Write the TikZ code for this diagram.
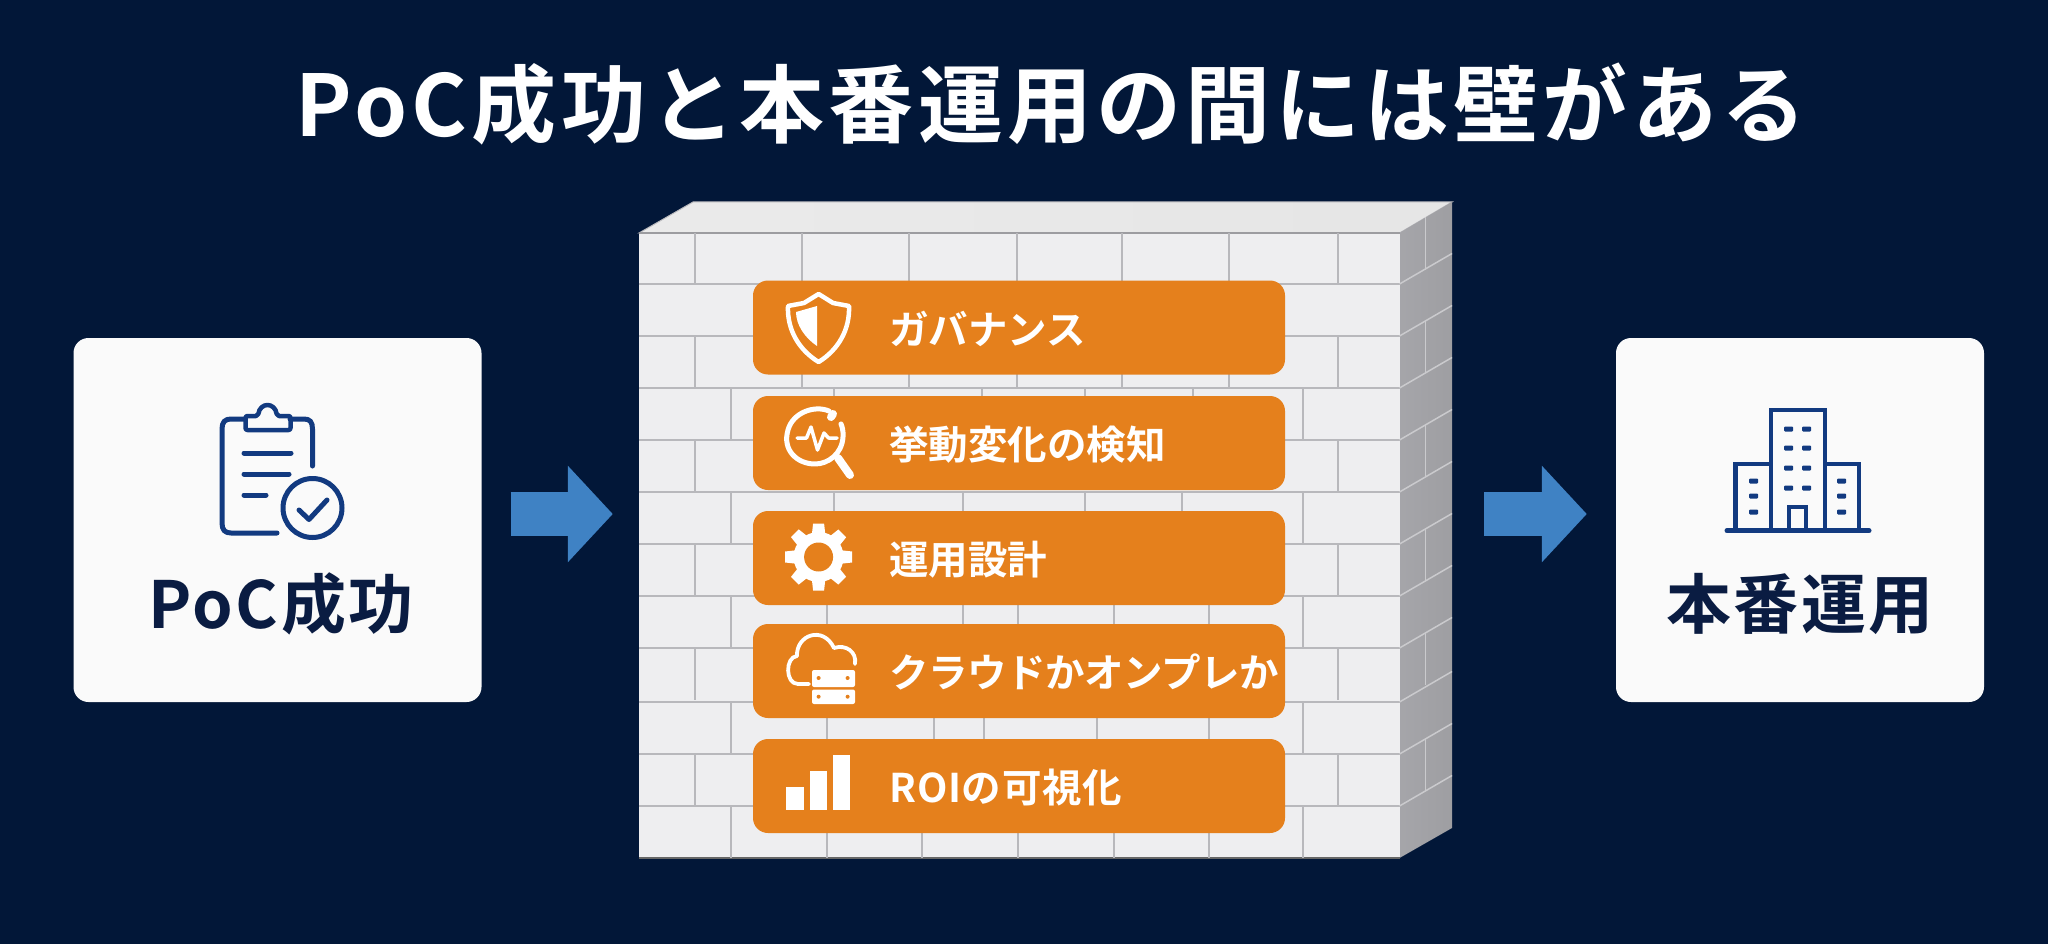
\documentclass[tikz,border=0pt]{standalone}
\usepackage{fontspec}
\setmainfont{Noto Sans CJK JP}[BoldFont=* Bold]
\usetikzlibrary{positioning,arrows.meta}

\definecolor{bgnavy}{RGB}{2,23,56}
\definecolor{cardwhite}{RGB}{250,250,250}
\definecolor{inknavy}{RGB}{10,28,66}
\definecolor{iconblue}{RGB}{18,58,128}
\definecolor{flowblue}{RGB}{63,130,196}
\definecolor{barorange}{RGB}{229,128,28}
\definecolor{brickface}{RGB}{238,238,240}
\definecolor{mortar}{RGB}{184,184,188}
\definecolor{sidegrey}{RGB}{172,172,176}

\tikzset{
    card/.style={fill=cardwhite, rounded corners=15pt, minimum width=408pt, minimum height=364pt, inner sep=0pt},
    cardlabel/.style={text=inknavy, inner sep=0pt, font=\fontsize{65}{65}\selectfont\bfseries\addfontfeature{LetterSpace=4}},
    itembar/.style={fill=barorange, rounded corners=15pt, minimum width=532pt, minimum height=94pt, inner sep=0pt},
    itemlabel/.style={text=white, inner sep=0pt, text height=38pt, text depth=5pt, font=\fontsize{39.5}{39.5}\selectfont\bfseries},
    flowarrow/.style={draw=flowblue, line width=44pt, -{Triangle[length=45pt,width=94pt]}},
    iconline/.style={draw=iconblue, line width=5pt, line cap=round, line join=round},
    winblock/.style={fill=iconblue, rounded corners=1pt},
    joint/.style={draw=mortar, line width=2pt},
    sidejoint/.style={draw=mortar!75!white, line width=1.5pt},
    whiteline/.style={draw=white, line width=5pt, line cap=round, line join=round},
}

\begin{document}
\begin{tikzpicture}[x=1pt,y=-1pt]
    \path[use as bounding box, fill=bgnavy] (0,0) rectangle (2048,944);

    \node[text=white, inner sep=0pt, font=\fontsize{85}{85}\selectfont\bfseries\addfontfeature{LetterSpace=5}] (title) at (1051,104) {PoC成功と本番運用の間には壁がある};

    % wall
    \shade[left color=white!92!black, right color=white!90!black, draw=mortar, line width=1pt] (639,233) -- (693,202) -- (1452,202) -- (1399.5,233) -- cycle;
    \shade[left color=sidegrey!108!white, right color=sidegrey!92!black] (1399.5,233) -- (1452,202) -- (1452,828) -- (1399.5,858) -- cycle;
    \node[fill=brickface, minimum width=760.5pt, minimum height=625pt, inner sep=0pt] (wallfront) at (1019.25,545.5) {};

    \foreach \ycourse in {284,336,388,440,492,544,596,648,702,754,806} {
        \draw[joint] (639,\ycourse) -- (1399.5,\ycourse);
        \draw[sidejoint] (1399.5,\ycourse) -- (1452,\ycourse-30.5);
    }
    \draw[draw=mortar!85!black, line width=2pt] (639,233) -- (1399.5,233);
    \draw[draw=black!60, line width=2.5pt] (639,858) -- (1399.5,858);

    \foreach \ytop/\joints in {233/{695,802,909,1017,1122,1229,1337.5},
                               336/{695,802,909,1017,1122,1229,1337.5},
                               388/{731,834,982,1085,1193,1303},
                               440/{695,1337.5},
                               492/{731,834,963,1085,1182,1303},
                               544/{695,1337.5},
                               596/{731,827,963,1018,1114,1209,1303},
                               648/{695,1337.5},
                               702/{731,827,934,984,1097,1209,1303},
                               754/{695,1337.5},
                               806/{731,827,922,1018,1114,1209,1303}} {
        \foreach \xj in \joints {
            \draw[joint] (\xj,\ytop) -- (\xj,\ytop+52);
        }
    }
    \foreach \ytop in {233,336,440,544,648,754} {
        \draw[sidejoint] (1425.5,\ytop-15.5) -- (1425.5,\ytop+36.5);
    }

    % orange bars
    \foreach \ybar/\name/\txt in {327.5/gov/ガバナンス, 443/detect/挙動変化の検知, 558/ops/運用設計, 671/cloud/{\addfontfeature{LetterSpace=-1.2}クラウドかオンプレか}, 786/roi/{\addfontfeature{LetterSpace=3}ROI\addfontfeature{LetterSpace=2}の可視化}} {
        \node[itembar] (bar\name) at (1019,\ybar) {};
        \node[itemlabel, right=136pt of bar\name.west] (txt\name) {\txt};
    }

    % shield
    \draw[whiteline, line width=4.5pt] (818.6,294) -- (833,303) -- (849,306) .. controls (850,330) and (838,350) .. (818.6,362) .. controls (799,350) and (787,330) .. (788,306) -- (804,303) -- cycle;
    \fill[white] (817,306) -- (817,346) .. controls (805,338) and (796,325) .. (796,312) -- cycle;

    % magnifier
    \draw[whiteline] (829,411) .. controls (815,405) and (793,412) .. (788,430) .. controls (782,450) and (797,464) .. (815,464) .. controls (828,464) and (842,454) .. (843,437) .. controls (843.5,431) and (842,426) .. (841,424);
    \draw[whiteline, line width=8pt] (831,417) -- (833,414);
    \draw[whiteline, line width=8pt] (838,458) -- (850,475);
    \draw[whiteline, line width=3.5pt] (797,438) -- (806.5,438) -- (811,427) -- (817.5,450) -- (824,433) -- (828.5,438) -- (837,438);

    % gear
    \fill[white] (818.6,557) circle[radius=25];
    \foreach \ang in {0,45,...,315} {
        \fill[white, shift={(818.6,557)}, rotate=\ang] (-7,-20) -- (-5.5,-33.5) -- (5.5,-33.5) -- (7,-20) -- cycle;
    }
    \fill[barorange] (818.6,557) circle[radius=14.5];

    % cloud and servers
    \draw[whiteline, line width=3.8pt] (809,684) -- (798,684) .. controls (785,684) and (785,657) .. (797,656) .. controls (796,635) and (823,625) .. (834,648) .. controls (846,644) and (857,652) .. (855,664);
    \fill[white, rounded corners=2pt] (812,670) rectangle (855,687);
    \fill[white, rounded corners=2pt] (812,689.5) rectangle (855,704);
    \foreach \xd in {818.6,847.6} {
        \fill[barorange] (\xd,678) circle[radius=2];
        \fill[barorange] (\xd,696.7) circle[radius=2];
    }

    % bar chart
    \fill[white] (786,787) rectangle (804,810);
    \fill[white] (810,771) rectangle (827,810);
    \fill[white] (833,755) rectangle (850,810);

    % left card
    \node[card] (pocbox) at (277.5,520) {};
    \node[cardlabel] (poclabel) at (281,604) {PoC成功};
    \draw[iconline] (312.5,466) -- (312.5,429) .. controls (312.5,422) and (310,419) .. (304,419) -- (290,419);
    \draw[iconline] (245.5,419) -- (231,419) .. controls (225,419) and (222,422) .. (222,429) -- (222,523) .. controls (222,530) and (225,533) .. (231,533) -- (277,533);
    \draw[iconline, line width=4.5pt, rounded corners=2pt] (245.5,416) -- (258,416) .. controls (260,402) and (275,402) .. (277,416) -- (290.5,416) -- (290.5,430) -- (245.5,430) -- cycle;
    \draw[iconline] (244,453) -- (291,453);
    \draw[iconline] (244,474) -- (289,474);
    \draw[iconline] (244,495) -- (266,495);
    \draw[iconline, fill=cardwhite] (312.5,508) circle[radius=29.5];
    \draw[iconline] (299,510) -- (309,519.5) -- (327,500);

    % right card
    \node[card, minimum width=368pt] (prodbox) at (1800,520) {};
    \node[cardlabel] (prodlabel) at (1800,604) {本番運用};
    \draw[iconline, line width=4.5pt, line cap=butt, line join=miter] (1771,530) -- (1771,410) -- (1825,410) -- (1825,530);
    \draw[iconline, line width=4.5pt, line cap=butt, line join=miter] (1771,464) -- (1735.7,464) -- (1735.7,530);
    \draw[iconline, line width=4.5pt, line cap=butt, line join=miter] (1825,464) -- (1859,464) -- (1859,530);
    \draw[iconline, line width=4.5pt, line cap=butt, line join=miter] (1789,530) -- (1789,507) -- (1806,507) -- (1806,530);
    \draw[iconline] (1727,530.7) -- (1869,530.7);
    \foreach \ywin in {429,448,468,488} {
        \fill[winblock] (1784,\ywin-2.5) rectangle (1793,\ywin+2.5);
        \fill[winblock] (1802,\ywin-2.5) rectangle (1811,\ywin+2.5);
    }
    \foreach \ywin in {481,496,512} {
        \fill[winblock] (1749,\ywin-2.5) rectangle (1758,\ywin+2.5);
        \fill[winblock] (1837,\ywin-2.5) rectangle (1846,\ywin+2.5);
    }

    % arrows
    \coordinate (arrowrow) at (0,514);
    \coordinate (wallside) at (1452,514);
    \draw[flowarrow, shorten <=29pt, shorten >=26pt] (pocbox.east |- arrowrow) -- (wallfront.west |- arrowrow);
    \draw[flowarrow, shorten <=32pt, shorten >=29pt] (wallside) -- (prodbox.west |- arrowrow);
\end{tikzpicture}
\end{document}
